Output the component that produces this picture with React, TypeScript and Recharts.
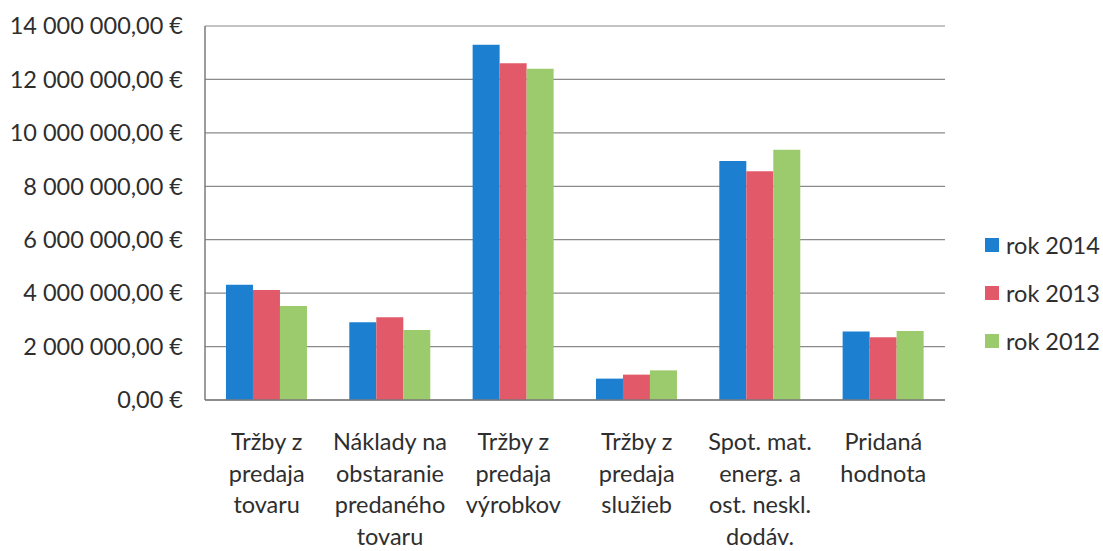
import { Bar, BarChart, CartesianGrid, XAxis, YAxis } from 'recharts'

const categories = [
  'Tržby z\npredaja\ntovaru',
  'Náklady na\nobstaranie\npredaného\ntovaru',
  'Tržby z\npredaja\nvýrobkov',
  'Tržby z\npredaja\nslužieb',
  'Spot. mat.\nenerg. a\nost. neskl.\ndodáv.',
  'Pridaná\nhodnota',
]

const rok2014 = [4310000, 2910000, 13300000, 800000, 8950000, 2560000]
const rok2013 = [4120000, 3100000, 12610000, 950000, 8560000, 2350000]
const rok2012 = [3520000, 2620000, 12400000, 1110000, 9370000, 2580000]

const seriesNames = ['rok 2014', 'rok 2013', 'rok 2012']
const seriesColors = ['#1d7fd0', '#e25a69', '#9bcb6c']
const yTicks = [0, 2000000, 4000000, 6000000, 8000000, 10000000, 12000000, 14000000]

const data = categories.map((name, i) => ({
  name,
  s0: rok2014[i],
  s1: rok2013[i],
  s2: rok2012[i],
}))

const FONT = 'Lato, "Open Sans", sans-serif'
const TEXT = '#2e2e2e'
const SIZE = 23.5

function formatEuro(value: number) {
  const [int, dec] = value.toFixed(2).split('.')
  const grouped = int.replace(/\B(?=(\d{3})+(?!\d))/g, ' ')
  return `${grouped},${dec} €`
}

function CategoryTick(props: { x?: number; y?: number; payload?: { value: string } }) {
  const x = props.x ?? 0
  const y = props.y ?? 0
  const lines = String(props.payload?.value ?? '').split('\n')
  return (
    <text x={x} y={y + 50} textAnchor="middle" fill={TEXT} fontSize={SIZE} fontFamily={FONT}>
      {lines.map((line, i) => (
        <tspan key={i} x={x} dy={i === 0 ? 0 : 31.5}>
          {line}
        </tspan>
      ))}
    </text>
  )
}

export default function App() {
  return (
    <div style={{ position: 'absolute', left: 0, top: 0, width: 1103, height: 551, background: '#fff' }}>
      <BarChart
        width={1103}
        height={551}
        data={data}
        margin={{ top: 26, right: 158, left: 0, bottom: 0 }}
        barCategoryGap="17%"
        barGap={0}
      >
        <CartesianGrid vertical={false} stroke="#8a8a8a" strokeWidth={1.2} />
        <XAxis
          dataKey="name"
          height={151}
          interval={0}
          tickLine={false}
          tickSize={0}
          tickMargin={0}
          axisLine={{ stroke: '#7a7a7a', strokeWidth: 1.5 }}
          tick={<CategoryTick />}
        />
        <YAxis
          width={205}
          domain={[0, 14000000]}
          ticks={yTicks}
          interval={0}
          tickLine={false}
          tickSize={0}
          tickMargin={22}
          axisLine={{ stroke: '#7a7a7a', strokeWidth: 1.5 }}
          tickFormatter={formatEuro}
          tick={{ fill: TEXT, fontSize: SIZE, fontFamily: FONT }}
        />
        {seriesNames.map((n, i) => (
          <Bar key={n} dataKey={`s${i}`} name={n} fill={seriesColors[i]} isAnimationActive={false} />
        ))}
      </BarChart>
      <div style={{ position: 'absolute', left: 985, top: 221, fontFamily: FONT, fontSize: SIZE, color: TEXT }}>
        {seriesNames.map((n, i) => (
          <div key={n} style={{ display: 'flex', alignItems: 'center', height: 48 }}>
            <span style={{ width: 14, height: 14, background: seriesColors[i], marginRight: 7, display: 'inline-block' }} />
            <span>{n}</span>
          </div>
        ))}
      </div>
    </div>
  )
}
